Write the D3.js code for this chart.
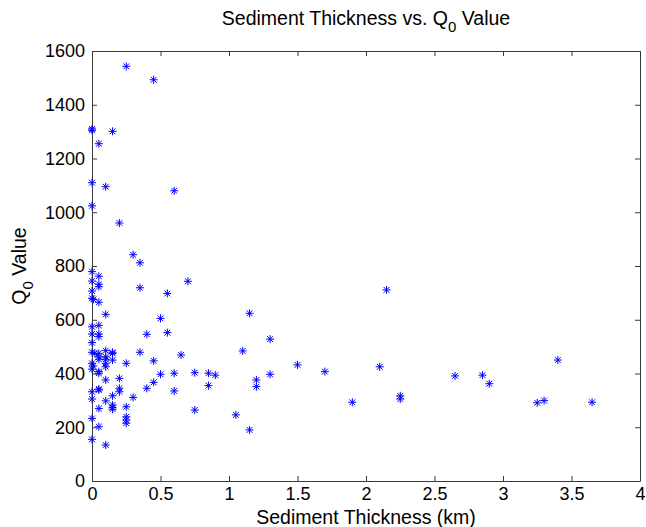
<!DOCTYPE html>
<html>
<head>
<meta charset="utf-8">
<script src="https://cdn.jsdelivr.net/npm/d3@7"></script>
<style>
  html, body { margin: 0; padding: 0; background: #fff; }
  svg { display: block; font-family: "Liberation Sans", Arial, Helvetica, sans-serif; }
</style>
</head>
<body>
<svg id="chart" width="646" height="527"></svg>
<script>
// Sediment thickness (km)
const thickness = [
  0.25,0.45,0,0,0.15,0.05,0,0.1,0.6,0,0.2,0.3,0.35,0,0.05,0,0.05,0.05,0,0,0.01,0.05,0.35,0.7,0.55,
  0.1,0.5,0,0.05,0,0.05,0.05,0,0.4,0.55,0,0.02,0.05,0.05,0.1,0.15,0.15,0.1,0.1,0.15,0,0.01,0.05,
  0.1,0.1,0.25,0.35,0.45,0.65,0,0.05,0.05,0.5,0.6,0.75,0.1,0.2,0.45,0.4,0.2,0.2,0.05,0.05,0,0,
  0.15,0.3,0.1,0.15,0.15,0.15,0.05,0.25,0.6,0.75,0.25,0.25,0.25,0,0.05,0,0.1,
  1.15,1.3,1.1,1.5,1.7,0.85,0.9,0.85,1.2,1.2,1.3,1.05,1.15,
  2.15,2.1,2.65,1.9,2.25,2.25,2.85,2.9,3.4,3.25,3.3,3.65
];
// Q0 values
const q0 = [
  1543,1493,1310,1305,1301,1255,1110,1095,1080,1024,960,842,812,779,762,744,732,723,707,680,676,665,719,743,698,
  620,605,574,579,547,547,537,515,546,552,479,475,475,462,485,479,475,462,453,450,438,428,453,
  438,425,438,479,447,469,416,407,401,397,401,403,376,382,367,345,345,332,342,339,332,305,
  317,311,298,283,273,267,270,276,335,264,239,227,215,233,202,155,134,
  624,528,484,432,407,401,394,355,376,351,397,246,190,
  711,425,391,293,317,305,394,362,450,291,299,293
];
const xTicks = [0,0.5,1,1.5,2,2.5,3,3.5,4];
const yTicks = [0,200,400,600,800,1000,1200,1400,1600];

const W = 646, H = 527;
const m = {left: 92, right: 6, top: 51, bottom: 46};
const svg = d3.select("#chart");
const x = d3.scaleLinear().domain([0,4]).range([m.left, W - m.right]);
const y = d3.scaleLinear().domain([0,1600]).range([H - m.bottom, m.top]);

const axisColor = "#3a3a3a";
const tickLen = 5;
const fs = 18;
const lfs = 19.5;

// bottom axis
const gx = svg.append("g").attr("transform", `translate(0,${H - m.bottom})`)
  .call(d3.axisBottom(x).tickValues(xTicks).tickFormat(d3.format("")).tickSizeInner(-tickLen).tickSizeOuter(0).tickPadding(5));
// top axis
const gxt = svg.append("g").attr("transform", `translate(0,${m.top})`)
  .call(d3.axisTop(x).tickValues(xTicks).tickFormat("").tickSizeInner(-tickLen).tickSizeOuter(0));
// left axis
const gy = svg.append("g").attr("transform", `translate(${m.left},0)`)
  .call(d3.axisLeft(y).tickValues(yTicks).tickFormat(d3.format("")).tickSizeInner(-tickLen).tickSizeOuter(0).tickPadding(7));
// right axis
const gyr = svg.append("g").attr("transform", `translate(${W - m.right},0)`)
  .call(d3.axisRight(y).tickValues(yTicks).tickFormat("").tickSizeInner(-tickLen).tickSizeOuter(0));

[gx, gxt, gy, gyr].forEach(g => {
  g.select(".domain").attr("stroke", axisColor).attr("stroke-width", 1);
  g.selectAll(".tick line").attr("stroke", axisColor).attr("stroke-width", 1);
  g.selectAll(".tick text").attr("fill", "#000").style("font-size", fs + "px")
    .style("font-family", "'Liberation Sans', Arial, sans-serif");
});
gx.selectAll(".tick text").attr("dy", "0.75em");

// asterisk markers
const r = 4, d = 2.9;
const star = `M${-r},0H${r}M0,${-r}V${r}M${-d},${-d}L${d},${d}M${-d},${d}L${d},${-d}`;
svg.append("g").selectAll("path").data(thickness.map((t,i) => [t, q0[i]]))
  .join("path")
  .attr("transform", p => `translate(${x(p[0])},${y(p[1])})`)
  .attr("d", star)
  .attr("fill", "none")
  .attr("stroke", "#0000ff")
  .attr("stroke-width", 1);

// title
const title = svg.append("text").attr("x", (m.left + W - m.right) / 2).attr("y", 25)
  .attr("text-anchor", "middle").style("font-size", lfs + "px").attr("fill", "#000");
title.append("tspan").text("Sediment Thickness vs. Q");
title.append("tspan").attr("dy", 7).style("font-size", "15px").text("0");
title.append("tspan").attr("dy", -7).text(" Value");

// x label
svg.append("text").attr("x", (m.left + W - m.right) / 2).attr("y", 524)
  .attr("text-anchor", "middle").style("font-size", lfs + "px").attr("fill", "#000")
  .text("Sediment Thickness (km)");

// y label
const yl = svg.append("text")
  .attr("transform", `translate(26,${(m.top + H - m.bottom) / 2}) rotate(-90)`)
  .attr("text-anchor", "middle").style("font-size", lfs + "px").attr("fill", "#000");
yl.append("tspan").text("Q");
yl.append("tspan").attr("dy", 7).style("font-size", "15px").text("0");
yl.append("tspan").attr("dy", -7).text(" Value");
</script>
</body>
</html>
